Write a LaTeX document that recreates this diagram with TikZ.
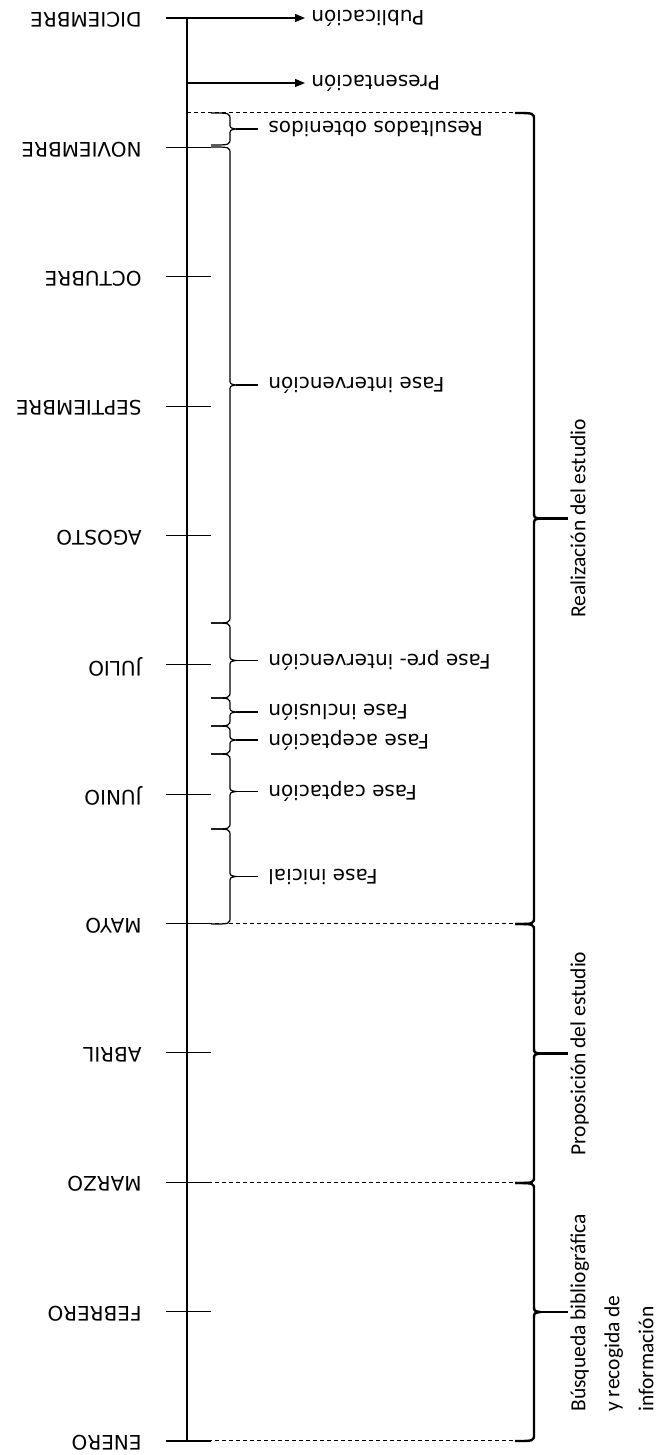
\documentclass[tikz,border=0pt]{standalone}
\usepackage{fontspec}
\newfontfamily\dejavu{DejaVu Sans}
\newfontfamily\carlito{Carlito}
\usepackage{tikz}
\usetikzlibrary{arrows.meta}
\tikzstyle{month} = [rotate=180, anchor=west, inner sep=0pt,
    font=\dejavu\fontsize{10}{12}\selectfont]
\tikzstyle{phase} = [rotate=180, anchor=east, inner xsep=5pt, inner ysep=0pt,
    font=\dejavu\fontsize{10}{12}\selectfont]
\tikzstyle{stage} = [rotate=90, anchor=north, inner sep=1pt, align=left,
    font=\carlito\fontsize{10.75}{17}\selectfont]
\tikzstyle{timeline} = [line width=1.2pt]
\tikzstyle{monthtick} = [line width=0.55pt]
\tikzstyle{divider} = [line width=0.5pt, dash pattern=on 2pt off 1.5pt]
\tikzstyle{smallbrace} = [line width=0.6pt]
\tikzstyle{bigbrace} = [line width=1.2pt]
\tikzstyle{pointer} = [line width=0.6pt, -{Triangle[length=5pt,width=4pt]}]
% brace: [style] x of ends, top, bottom, name of tip
\newcommand{\fasebrace}[5][]{%
  \draw[#1] (#2,#3) .. controls ({#2+19},#3) .. ({#2+19},{#3+7})
    -- ({#2+19},{(#3+#4)/2-6}) .. controls ({#2+19},{(#3+#4)/2-1}) .. ({#2+25},{(#3+#4)/2})
    .. controls ({#2+19},{(#3+#4)/2+1}) .. ({#2+19},{(#3+#4)/2+6})
    -- ({#2+19},{#4-7}) .. controls ({#2+19},#4) .. (#2,#4);
  \coordinate (#5) at ({#2+25},{(#3+#4)/2});}
\begin{document}
\begin{tikzpicture}[x=0.5pt, y=-0.5pt]
    \useasboundingbox (0,0) rectangle (662,1455);
    % Place months
    \foreach \m [count=\i from 0] in {DICIEMBRE,NOVIEMBRE,OCTUBRE,SEPTIEMBRE,
        AGOSTO,JULIO,JUNIO,MAYO,ABRIL,MARZO,FEBRERO,ENERO} {
        \pgfmathsetmacro{\y}{18+129.36*\i}
        \coordinate (m\i) at (187,\y);
        \node [month] (month\i) at (142,{\y+2}) {\m};
        \draw [monthtick] (166,\y) -- (211,\y);
    }
    \draw [timeline] (m0) -- (m11);
    % Place end points
    \coordinate (pres) at (187,83);
    \node [phase, inner xsep=3pt] (publicacion) at (305,18) {Publicación};
    \node [phase, inner xsep=3pt] (presentacion) at (305,83) {Presentación};
    \draw [pointer] (m0) -- (publicacion.east);
    \draw [pointer] (pres) -- (presentacion.east);
    % Dividers
    \coordinate (inicio) at (187,113);
    \draw [divider] (inicio) -- ++(328,0);
    \draw [divider] (m7) -- ++(328,0);
    \draw [divider] (m9) -- ++(328,0);
    \draw [divider] (m11) -- ++(328,0);
    % Phases
    \fasebrace[smallbrace]{211}{113}{145}{bResultados}
    \fasebrace[smallbrace]{211}{147}{623}{bIntervencion}
    \fasebrace[smallbrace]{211}{623}{698}{bPre}
    \fasebrace[smallbrace]{211}{698}{726}{bInclusion}
    \fasebrace[smallbrace]{211}{726}{754}{bAceptacion}
    \fasebrace[smallbrace]{211}{754}{829}{bCaptacion}
    \fasebrace[smallbrace]{211}{829}{924}{bInicial}
    \node [phase] (resultados) at ([xshift=11pt]bResultados) {Resultados obtenidos};
    \node [phase] (intervencion) at ([xshift=11pt]bIntervencion) {Fase intervención};
    \node [phase] (preintervencion) at ([xshift=11pt]bPre) {Fase pre- intervención};
    \node [phase] (inclusion) at ([xshift=11pt]bInclusion) {Fase inclusión};
    \node [phase] (aceptacion) at ([xshift=11pt]bAceptacion) {Fase aceptación};
    \node [phase] (captacion) at ([xshift=11pt]bCaptacion) {Fase captación};
    \node [phase] (inicial) at ([xshift=11pt]bInicial) {Fase inicial};
    \draw [smallbrace] (bResultados) -- (resultados.east);
    \draw [smallbrace] (bIntervencion) -- (intervencion.east);
    \draw [smallbrace] (bPre) -- (preintervencion.east);
    \draw [smallbrace] (bInclusion) -- (inclusion.east);
    \draw [smallbrace] (bAceptacion) -- (aceptacion.east);
    \draw [smallbrace] (bCaptacion) -- (captacion.east);
    \draw [smallbrace] (bInicial) -- (inicial.east);
    % Stages
    \fasebrace[bigbrace]{515}{113}{924}{bRealizacion}
    \fasebrace[bigbrace]{515}{924}{1183}{bProposicion}
    \fasebrace[bigbrace]{515}{1183}{1441}{bBusqueda}
    \node [stage] (realizacion) at ([xshift=14pt]bRealizacion) {Realización del estudio};
    \node [stage] (proposicion) at ([xshift=14pt]bProposicion) {Proposición del estudio};
    \node [stage, anchor=north west] (busqueda) at (568,1414)
    {Búsqueda bibliográfica\\y recogida de\\información};
    \draw [bigbrace] (bRealizacion) -- (realizacion.north);
    \draw [bigbrace] (bProposicion) -- (proposicion.north);
    \draw [bigbrace] (bBusqueda) -- (bBusqueda -| busqueda.north);
\end{tikzpicture}
\end{document}
